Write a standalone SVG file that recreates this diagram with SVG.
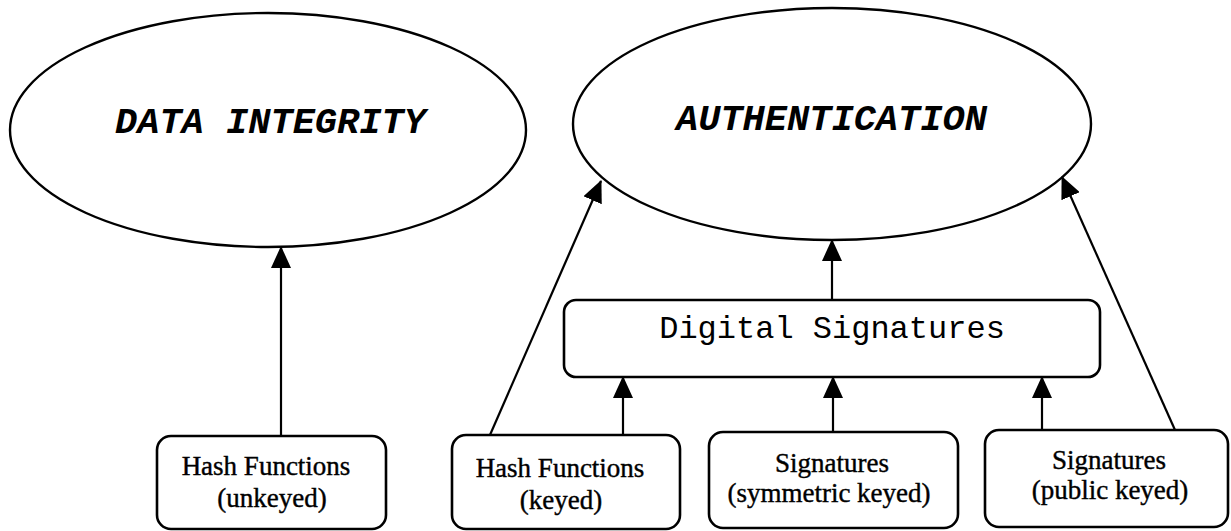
<svg xmlns="http://www.w3.org/2000/svg" width="1231" height="531" viewBox="0 0 1231 531">
<style>
.ell{fill:none;stroke:#000;stroke-width:2.4}
.box{fill:#fff;stroke:#000;stroke-width:2.6}
.conn{stroke:#000;stroke-width:2.2;fill:none}
.big{font-family:"Liberation Mono","Courier New",monospace;font-weight:bold;font-style:italic;font-size:37px;fill:#000}
.mono{font-family:"Liberation Mono","Courier New",monospace;font-size:32px;fill:#000}
.serif{font-family:"Liberation Serif","Times New Roman",serif;font-size:27px;fill:#000;stroke:#000;stroke-width:0.4;text-anchor:middle}
</style>
<defs>
<marker id="ah" markerUnits="userSpaceOnUse" markerWidth="22" markerHeight="20" viewBox="0 0 22 20" refX="21" refY="10" orient="auto">
<path d="M0,0 L22,10 L0,20 z" fill="#000"/>
</marker>
</defs>
<rect width="1231" height="531" fill="#fff"/>
<g id="data-integrity">
<ellipse class="ell" cx="268" cy="130" rx="258" ry="117"/>
<text class="big" x="115" y="133">DATA INTEGRITY</text>
</g>
<g id="authentication">
<ellipse class="ell" cx="832" cy="124" rx="259" ry="116"/>
<text class="big" x="676" y="130">AUTHENTICATION</text>
</g>
<g id="digital-signatures">
<rect class="box" x="564" y="300" width="536" height="77" rx="12"/>
<text class="mono" x="832" y="338" text-anchor="middle">Digital Signatures</text>
</g>
<g id="hash-unkeyed">
<rect class="box" x="157" y="436" width="229" height="93" rx="14"/>
<text class="serif" x="266" y="475">Hash Functions</text>
<text class="serif" x="272" y="507">(unkeyed)</text>
</g>
<g id="hash-keyed">
<rect class="box" x="452" y="435" width="228" height="94" rx="14"/>
<text class="serif" x="560" y="477">Hash Functions</text>
<text class="serif" x="561" y="509">(keyed)</text>
</g>
<g id="sig-symmetric">
<rect class="box" x="709" y="432" width="249" height="96" rx="14"/>
<text class="serif" x="832" y="472">Signatures</text>
<text class="serif" x="829" y="502">(symmetric keyed)</text>
</g>
<g id="sig-public">
<rect class="box" x="985" y="430" width="243" height="97" rx="14"/>
<text class="serif" x="1109" y="469">Signatures</text>
<text class="serif" x="1110" y="499">(public keyed)</text>
</g>
<g id="connectors">
<line class="conn" x1="281" y1="436" x2="281" y2="247" marker-end="url(#ah)"/>
<line class="conn" x1="490" y1="435" x2="601" y2="181" marker-end="url(#ah)"/>
<line class="conn" x1="1175" y1="430" x2="1062" y2="177" marker-end="url(#ah)"/>
<line class="conn" x1="832" y1="300" x2="832" y2="240" marker-end="url(#ah)"/>
<line class="conn" x1="623" y1="435" x2="623" y2="377" marker-end="url(#ah)"/>
<line class="conn" x1="833" y1="432" x2="833" y2="377" marker-end="url(#ah)"/>
<line class="conn" x1="1042" y1="430" x2="1042" y2="377" marker-end="url(#ah)"/>
</g>
</svg>
